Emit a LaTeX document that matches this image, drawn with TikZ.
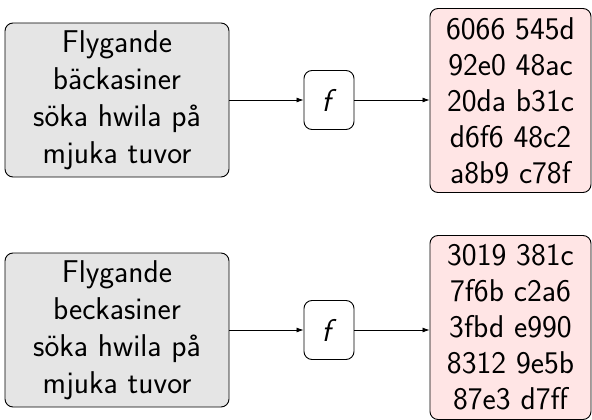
\documentclass[tikz,border=0pt]{standalone}
\usetikzlibrary{arrows.meta}
\begin{document}
\begin{tikzpicture}[x=1pt,y=-1pt,
  every node/.style={font=\sffamily\fontsize{31.5}{37}\selectfont},
  msgbox/.style={draw, rounded corners=8pt, fill=gray!20, minimum width=224pt, minimum height=154pt, align=center, inner sep=0pt, line width=0.9pt},
  funbox/.style={draw, rounded corners=8pt, fill=white, minimum width=50pt, minimum height=59pt, inner sep=0pt, line width=0.9pt},
  hashbox/.style={draw, rounded corners=8pt, fill=red!10, minimum width=161pt, minimum height=184pt, align=center, inner sep=0pt, line width=0.9pt, font=\sffamily\fontsize{31.5}{36}\selectfont},
  conn/.style={-{Latex[length=7pt,width=5pt]}, line width=0.8pt}]
\useasboundingbox (0,0) rectangle (592,420);
\node[msgbox] (m1) at (117,100) {Flygande\\bäckasiner\\söka hwila på\\mjuka tuvor};
\node[funbox] (f1) at (329,100) {\textit{f}};
\node[hashbox] (h1) at (510.5,100.5) {6066 545d\\92e0 48ac\\20da b31c\\d6f6 48c2\\a8b9 c78f};
\node[msgbox] (m2) at (117,330) {Flygande\\beckasiner\\söka hwila på\\mjuka tuvor};
\node[funbox] (f2) at (329,330) {\textit{f}};
\node[hashbox] (h2) at (510.5,327.5) {3019 381c\\7f6b c2a6\\3fbd e990\\8312 9e5b\\87e3 d7ff};
\draw[conn] (m1) -- (f1);
\draw[conn] (f1) -- (h1.west |- f1);
\draw[conn] (m2) -- (f2);
\draw[conn] (f2) -- (h2.west |- f2);
\end{tikzpicture}
\end{document}
